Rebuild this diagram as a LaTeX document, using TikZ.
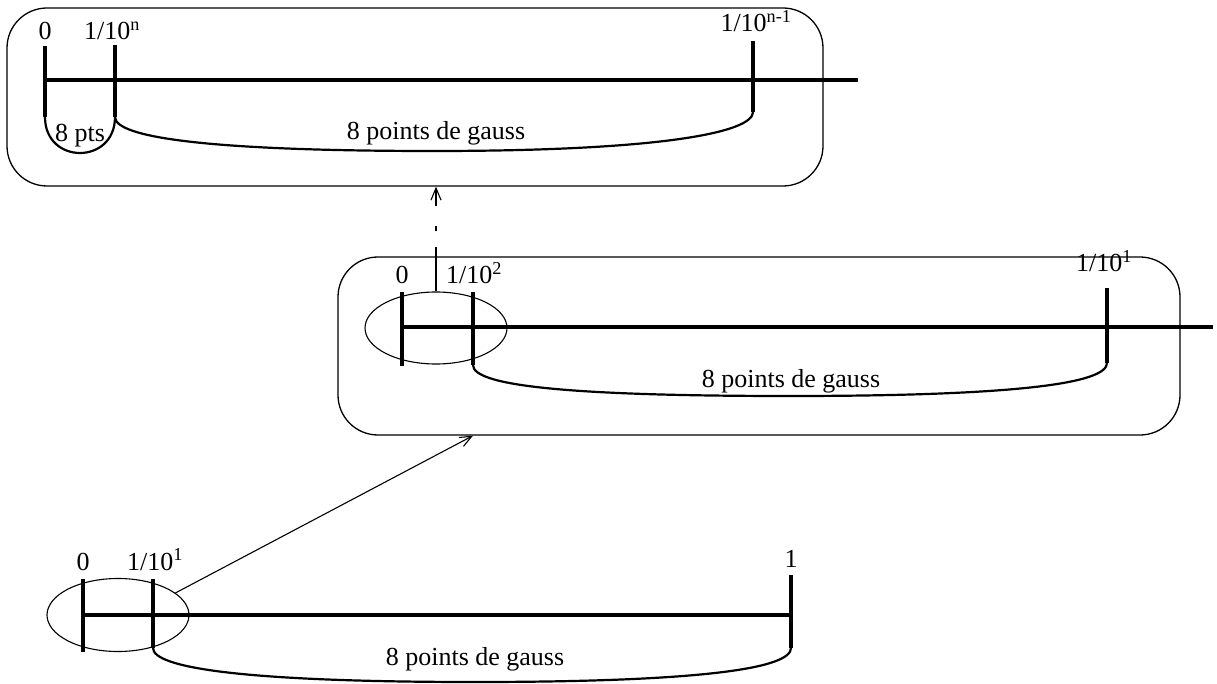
\documentclass[tikz,border=0pt]{standalone}
\usepackage{fontspec}
\setmainfont{Liberation Serif}
\usetikzlibrary{shapes.geometric,arrows.meta}
\begin{document}
\begin{tikzpicture}[x=1pt,y=-1pt,
  roundbox/.style={draw, line width=1.3pt, rounded corners=40pt, inner sep=0pt, minimum width=#1},
  axisline/.style={line width=3.8pt},
  tickline/.style={line width=4.2pt},
  braceline/.style={line width=2.2pt},
  lbl/.style={anchor=base, inner sep=0pt, font=\fontsize{26}{30}\selectfont},
  oval/.style={draw, ellipse, line width=1.1pt, inner sep=0pt},
  arr/.style={line width=1.1pt, -{Straight Barb[length=12pt,width=10pt]}}]
\useasboundingbox (0,0) rectangle (1217,684);

% boxes
\node[roundbox=816pt, minimum height=178pt] (box1) at (415,97) {};
\node[roundbox=842pt, minimum height=178pt] (box2) at (759,346) {};

% ellipses
\node[oval, minimum width=142pt, minimum height=72pt] (ell2) at (436,328) {};
\node[oval, minimum width=142pt, minimum height=73pt] (ell1) at (118,615) {};

% ---- top level
\coordinate (a1s) at (45,80);  \coordinate (a1e) at (858,80);
\coordinate (t1at) at (45,46);  \coordinate (t1ab) at (45,117);
\coordinate (t1bt) at (115,45); \coordinate (t1bb) at (115,117);
\coordinate (t1ct) at (753,41); \coordinate (t1cb) at (753,112);
\coordinate (m1) at (434,151);
\draw[axisline] (a1s) -- (a1e);
\draw[tickline] (t1at) -- (t1ab);
\draw[tickline] (t1bt) -- (t1bb);
\draw[tickline] (t1ct) -- (t1cb);
\draw[braceline] (t1ab) .. controls (45,165) and (115,165) .. (t1bb);
\draw[braceline] (t1bb) .. controls +(0,20) and +(-230,0) .. (m1)
                        .. controls +(230,0) and +(0,20) .. (t1cb);
\node[lbl] (l1a) at (45,40) {0};
\node[lbl] (l1b) at (112,40) {1/10\textsuperscript{n}};
\node[lbl] (l1c) at (756,32) {1/10\textsuperscript{n-1}};
\node[lbl] (l1d) at (80,142) {8 pts};
\node[lbl] (l1e) at (436,140) {8 points de gauss};

% ---- middle level
\coordinate (a2s) at (402,327);  \coordinate (a2e) at (1213,327);
\coordinate (t2at) at (402,292);  \coordinate (t2ab) at (402,366);
\coordinate (t2bt) at (473,292);  \coordinate (t2bb) at (473,365);
\coordinate (t2ct) at (1107,288); \coordinate (t2cb) at (1107,363);
\coordinate (m2) at (790,396);
\draw[axisline] (a2s) -- (a2e);
\draw[tickline] (t2at) -- (t2ab);
\draw[tickline] (t2bt) -- (t2bb);
\draw[tickline] (t2ct) -- (t2cb);
\draw[braceline] (t2bb) .. controls +(0,20) and +(-230,0) .. (m2)
                        .. controls +(230,0) and +(0,20) .. (t2cb);
\node[lbl] (l2a) at (402,284) {0};
\node[lbl] (l2b) at (474,284) {1/10\textsuperscript{2}};
\node[lbl] (l2c) at (1104,272) {1/10\textsuperscript{1}};
\node[lbl] (l2e) at (791,387) {8 points de gauss};

% ---- bottom level
\coordinate (a3s) at (83,615);  \coordinate (a3e) at (791,615);
\coordinate (t3at) at (83,579);  \coordinate (t3ab) at (83,652);
\coordinate (t3bt) at (153,579); \coordinate (t3bb) at (153,648);
\coordinate (t3ct) at (791,575); \coordinate (t3cb) at (791,648);
\coordinate (m3) at (475,682);
\draw[axisline] (a3s) -- (a3e);
\draw[tickline] (t3at) -- (t3ab);
\draw[tickline] (t3bt) -- (t3bb);
\draw[tickline] (t3ct) -- (t3cb);
\draw[braceline] (t3bb) .. controls +(0,20) and +(-230,0) .. (m3)
                        .. controls +(230,0) and +(0,20) .. (t3cb);
\node[lbl] (l3a) at (83,570) {0};
\node[lbl] (l3b) at (155,570) {1/10\textsuperscript{1}};
\node[lbl] (l3c) at (791,567) {1};
\node[lbl] (l3e) at (475,665) {8 points de gauss};

% ---- connectors
\draw[arr, dash pattern=on 44pt off 16pt on 5pt off 20pt on 60pt]
  (ell2.north) -- (ell2.north |- box1.south);
\draw[arr] (ell1.21) -- (box2.south -| t2bb);
\end{tikzpicture}
\end{document}
